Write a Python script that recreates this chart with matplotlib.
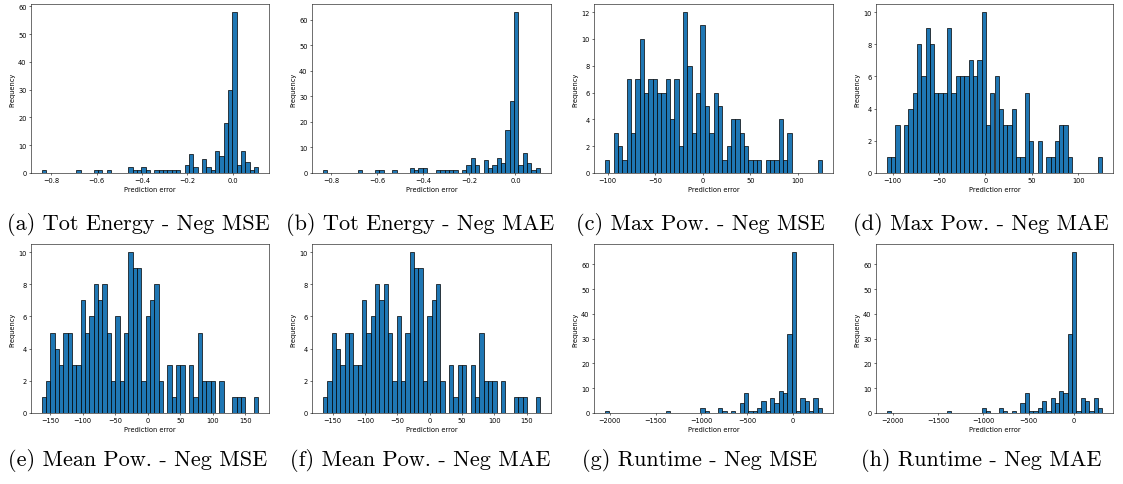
import numpy as np
import matplotlib.pyplot as plt

# 50-bin histograms of prediction errors: counts per bin and data range
tot_mse_counts = [1, 0, 0, 0, 0, 0, 0, 0, 1, 0, 0, 0, 1, 1, 0, 1, 0, 0, 0, 0,
                  2, 1, 1, 2, 1, 0, 1, 1, 1, 1, 1, 1, 0, 3, 7, 2, 0, 5, 2, 1,
                  8, 6, 18, 30, 58, 3, 8, 4, 1, 2]
tot_mse_range = (-0.8405, 0.111)

tot_mae_counts = [1, 0, 0, 0, 0, 0, 0, 0, 1, 0, 0, 0, 1, 1, 0, 0, 1, 0, 0, 0,
                  2, 1, 2, 2, 0, 0, 1, 1, 1, 1, 1, 0, 1, 3, 6, 3, 0, 5, 2, 3,
                  6, 4, 17, 28, 63, 3, 8, 4, 1, 2]
tot_mae_range = (-0.835, 0.107)

maxp_mse_counts = [1, 0, 3, 2, 1, 7, 3, 7, 10, 6, 7, 7, 6, 6, 7, 4, 7, 2, 12, 8,
                   3, 6, 11, 5, 3, 6, 5, 1, 2, 4, 4, 3, 2, 1, 1, 1, 0, 1, 1, 1,
                   4, 1, 3, 0, 0, 0, 0, 0, 0, 1]
maxp_mse_range = (-103.0, 125.4)

maxp_mae_counts = [1, 1, 3, 0, 3, 4, 5, 8, 6, 9, 8, 5, 5, 5, 9, 5, 6, 6, 6, 7,
                   6, 7, 10, 3, 5, 6, 4, 3, 3, 4, 1, 1, 5, 2, 0, 2, 0, 1, 1, 2,
                   3, 3, 1, 0, 0, 0, 0, 0, 0, 1]
maxp_mae_range = (-106.3, 126.0)

meanp_counts = [1, 2, 5, 4, 3, 5, 5, 3, 3, 7, 5, 6, 8, 7, 8, 5, 2, 6, 2, 5,
                10, 9, 9, 2, 6, 7, 8, 2, 0, 3, 1, 3, 3, 0, 3, 1, 5, 2, 2, 2,
                0, 2, 0, 0, 1, 1, 1, 0, 0, 1]
meanp_mse_range = (-163.0, 169.5)
meanp_mae_range = (-165.0, 170.5)

runtime_counts = [1, 0, 0, 0, 0, 0, 0, 0, 0, 0, 0, 0, 0, 0, 1, 0, 0, 0, 0, 0,
                  0, 0, 2, 1, 0, 0, 2, 1, 0, 1, 0, 4, 8, 1, 1, 2, 5, 1, 6, 4,
                  9, 8, 32, 65, 1, 6, 5, 1, 6, 2]
runtime_mse_range = (-2053.0, 319.0)
runtime_mae_range = (-2064.0, 310.0)

captions = ['(a) Tot Energy - Neg MSE', '(b) Tot Energy - Neg MAE',
            '(c) Max Pow. - Neg MSE', '(d) Max Pow. - Neg MAE',
            '(e) Mean Pow. - Neg MSE', '(f) Mean Pow. - Neg MAE',
            '(g) Runtime - Neg MSE', '(h) Runtime - Neg MAE']

panels = [(tot_mse_counts, tot_mse_range), (tot_mae_counts, tot_mae_range),
          (maxp_mse_counts, maxp_mse_range), (maxp_mae_counts, maxp_mae_range),
          (meanp_counts, meanp_mse_range), (meanp_counts, meanp_mae_range),
          (runtime_counts, runtime_mse_range), (runtime_counts, runtime_mae_range)]

W, H = 1123, 485
fig = plt.figure(figsize=(W / 100, H / 100), dpi=100)

lefts = [31, 312, 594, 876]
widths = [238, 239, 239, 237]
tops = [5, 245]
ax_h = 169
cap_x = [138, 420, 700, 981]
cap_y = [224, 461]

for i, (counts, (lo, hi)) in enumerate(panels):
    row, col = divmod(i, 4)
    ax = fig.add_axes([lefts[col] / W, 1 - (tops[row] + ax_h) / H,
                       widths[col] / W, ax_h / H])
    edges = np.linspace(lo, hi, len(counts) + 1)
    ax.hist(edges[:-1], bins=edges, weights=counts, color='#1f77b4',
            edgecolor='black', linewidth=0.5)
    ax.set_xlabel('Prediction error', fontsize=4.8, labelpad=1.5)
    ax.set_ylabel('Frequency', fontsize=4.8, labelpad=2)
    ax.tick_params(labelsize=4.8, length=1.7, width=0.4, pad=1.5)
    for s in ax.spines.values():
        s.set_linewidth(0.4)
    fig.text(cap_x[col] / W, 1 - cap_y[row] / H, captions[i],
             ha='center', va='center', fontfamily='cmr10', fontsize=16)

fig.savefig('out.png', dpi=100)
